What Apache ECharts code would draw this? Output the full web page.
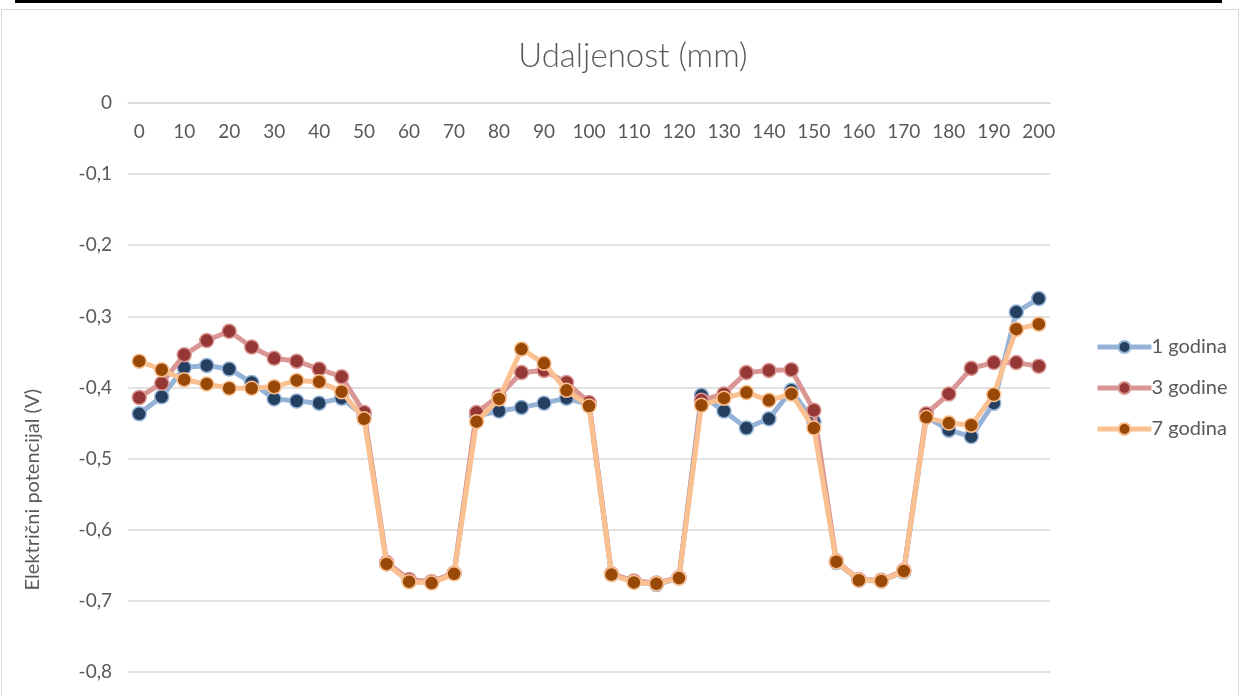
<!DOCTYPE html>
<html>
<head>
<meta charset="utf-8">
<script src="https://cdn.jsdelivr.net/npm/echarts@6/dist/echarts.min.js"></script>
<style>
html,body{margin:0;padding:0;background:#fff;}
#chart{width:1241px;height:696px;}
</style>
</head>
<body>
<div id="chart"></div>
<script>
const categories = ['0','5','10','15','20','25','30','35','40','45','50','55','60','65','70','75','80','85','90','95','100','105','110','115','120','125','130','135','140','145','150','155','160','165','170','175','180','185','190','195','200'];
const yTicks = [0, -0.1, -0.2, -0.3, -0.4, -0.5, -0.6, -0.7, -0.8];
const seriesNames = ['1 godina', '3 godine', '7 godina'];
const god1 = [-0.437,-0.413,-0.372,-0.369,-0.374,-0.393,-0.416,-0.419,-0.422,-0.415,-0.440,-0.648,-0.672,-0.674,-0.661,-0.440,-0.433,-0.428,-0.422,-0.415,-0.424,-0.663,-0.673,-0.677,-0.668,-0.411,-0.433,-0.457,-0.444,-0.404,-0.448,-0.646,-0.671,-0.672,-0.659,-0.441,-0.460,-0.469,-0.422,-0.294,-0.275];
const god3 = [-0.414,-0.394,-0.354,-0.334,-0.321,-0.343,-0.359,-0.363,-0.374,-0.385,-0.435,-0.646,-0.670,-0.673,-0.661,-0.435,-0.412,-0.379,-0.376,-0.393,-0.421,-0.662,-0.672,-0.675,-0.667,-0.418,-0.409,-0.379,-0.376,-0.375,-0.432,-0.644,-0.670,-0.671,-0.657,-0.437,-0.409,-0.373,-0.365,-0.365,-0.370];
const god7 = [-0.363,-0.375,-0.389,-0.395,-0.401,-0.401,-0.399,-0.390,-0.392,-0.406,-0.444,-0.648,-0.673,-0.675,-0.662,-0.448,-0.416,-0.346,-0.366,-0.404,-0.426,-0.663,-0.674,-0.676,-0.668,-0.425,-0.415,-0.407,-0.418,-0.409,-0.457,-0.645,-0.671,-0.672,-0.658,-0.442,-0.450,-0.453,-0.410,-0.318,-0.311];

const FONT = 'Lato';
const TXT = '#595959';
const lineColors = ['#95b3d7', '#d99694', '#fac090'];
const markColors = ['#243f60', '#953735', '#984807'];
const allData = [god1, god3, god7];

const chart = echarts.init(document.getElementById('chart'), null, {renderer: 'canvas'});
const series = allData.map((d, i) => ({
  name: seriesNames[i],
  type: 'line',
  data: d,
  symbol: 'circle',
  symbolSize: 14,
  lineStyle: {color: lineColors[i], width: 5},
  itemStyle: {color: markColors[i], borderColor: lineColors[i], borderWidth: 1.5},
  z: 2 + i
}));

chart.setOption({
  animation: false,
  backgroundColor: '#fff',
  title: {
    text: 'Udaljenost (mm)',
    left: 628, top: 35, textAlign: 'center',
    textStyle: {fontFamily: FONT, fontWeight: 300, fontSize: 33, color: TXT}
  },
  legend: {
    orient: 'vertical',
    left: 1090, top: 332,
    itemWidth: 54, itemHeight: 15, itemGap: 21,
    lineStyle: {width: 5},
    textStyle: {fontFamily: FONT, fontSize: 20, color: TXT, padding: [0,0,0,-5]},
    data: seriesNames
  },
  grid: {left: 128, right: 191, top: 103, bottom: 24, containLabel: false},
  xAxis: {
    type: 'category',
    data: categories,
    position: 'top',
    boundaryGap: true,
    axisLine: {show: true, lineStyle: {color: '#d9d9d9', width: 1.5}},
    axisTick: {show: false},
    axisLabel: {inside: true, margin: 19, interval: 1, fontFamily: FONT, fontSize: 19, color: TXT}
  },
  yAxis: {
    type: 'value',
    min: -0.8, max: 0, interval: 0.1,
    axisLine: {show: false},
    axisTick: {show: false},
    splitLine: {lineStyle: {color: '#d9d9d9', width: 1.5}},
    axisLabel: {
      margin: 16, fontFamily: FONT, fontSize: 19, color: TXT,
      formatter: v => (Math.abs(v) < 1e-9 ? '0' : v.toFixed(1).replace('.', ','))
    }
  },
  graphic: [
    {type: 'rect', shape: {x: 1.5, y: 9.5, width: 1237, height: 700}, style: {fill: 'none', stroke: '#d9d9d9', lineWidth: 1}, z: 0},
    {type: 'rect', shape: {x: 15, y: 0, width: 1207, height: 3}, style: {fill: '#000'}, z: 10},
    {type: 'text', left: 23, top: 389, rotation: Math.PI / 2,
     style: {text: 'Električni potencijal (V)', fontFamily: FONT, fontSize: 20, fill: TXT}}
  ],
  series: series
});
</script>
</body>
</html>
